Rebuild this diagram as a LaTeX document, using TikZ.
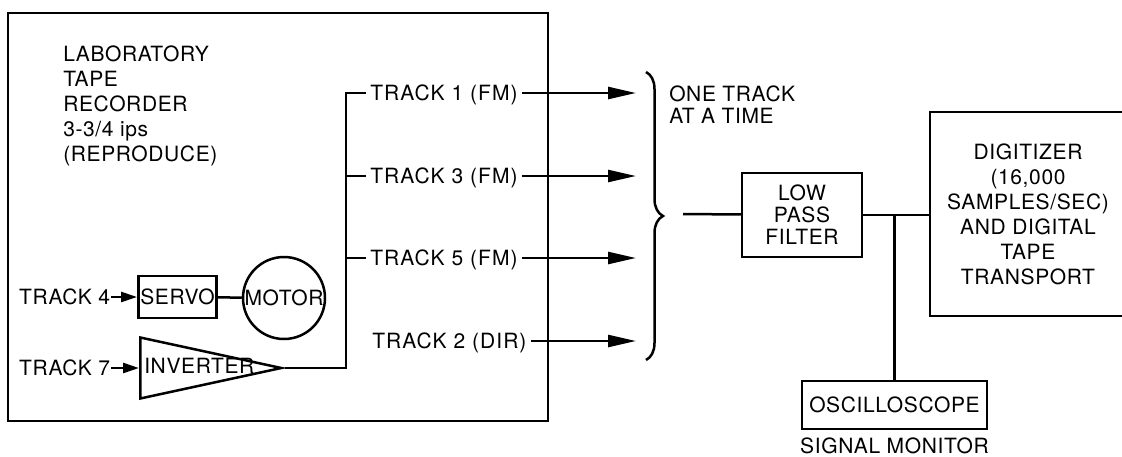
\documentclass[tikz,border=0pt]{standalone}
\usepackage{fontspec}
\setmainfont{TeX Gyre Heros}[LetterSpace=3]
\usetikzlibrary{arrows.meta,shapes.geometric,positioning,decorations.pathreplacing}

\begin{document}
\begin{tikzpicture}[x=1pt, y=-1pt,
    line width=2.5pt,
    font=\fontsize{21}{25}\selectfont,
    lbl/.style={inner sep=0pt, text height=15pt, text depth=0pt},
    trk/.style={lbl, inner xsep=3pt, anchor=west, font=\fontsize{21}{25}\selectfont\addfontfeature{LetterSpace=5}},
    blk/.style={draw, inner sep=2pt, align=center},
    big/.style={-{Triangle[length=28pt,width=12pt]}},
    sml/.style={-{Triangle[length=16pt,width=10pt]}}
]
\useasboundingbox (0,0) rectangle (1122,456);
\clip (0,0) rectangle (1122,456);

% tape recorder
\node[draw, minimum width=540, minimum height=408] (recorder) at (278,217) {};
\node[anchor=north west, inner sep=0pt, align=left] (title) at (62,45) {LABORATORY\\TAPE\\RECORDER\\3-3/4 ips\\(REPRODUCE)};

\node[blk, minimum width=77, minimum height=42] (servo) at (177.5,297) {SERVO};
\node[draw, circle, minimum size=82, inner sep=0pt] (motor) at (284,298) {MOTOR};
\node[lbl, anchor=west] (t4) at (18,297) {TRACK 4};
\node[draw, isosceles triangle, isosceles triangle stretches, minimum width=61, minimum height=141, inner sep=0pt, anchor=lower side] (inv) at (139,368) {};
\node[lbl, anchor=west] (invlbl) at (143,366) {INVERTER};
\node[lbl, anchor=west] (t7) at (18,368) {TRACK 7};

\draw[sml] (t4) -- (servo);
\draw (servo) -- (motor);
\draw[sml] (t7) -- (inv.lower side);

% tracks
\coordinate (bus) at (346,93);
\coordinate (tip) at (636,0);
\node[trk] (t1) at (366,93) {TRACK 1 (FM)};
\node[trk] (t3) at (366,176) {TRACK 3 (FM)};
\node[trk] (t5) at (366,258) {TRACK 5 (FM)};
\node[trk] (t2) at (368,341) {TRACK 2 (DIR)};

\draw (inv.apex) -| (bus) -- (t1);
\draw (bus |- t3) -- (t3);
\draw (bus |- t5) -- (t5);

\draw[big] (t1) -- (t1 -| tip);
\draw[big] (t3) -- (t3 -| tip);
\draw[big] (t5) -- (t5 -| tip);
\draw[big] (t2) -- (t2 -| tip);

% selector
\coordinate (brtop) at (646,72);
\coordinate (brbot) at (646,360);
\draw[decorate, decoration={brace, amplitude=17pt}] (brtop) -- (brbot);
\node[anchor=north west, inner sep=0pt, align=left, font=\fontsize{21}{22}\selectfont] (note) at (668,85) {ONE TRACK\\AT A TIME};

% filter, digitizer, monitor
\coordinate (mux) at (683,214);
\node[blk, minimum width=120, minimum height=84, font=\fontsize{21}{22}\selectfont] (lpf) at (802,215) {LOW\\PASS\\FILTER};
\node[blk, minimum width=196, minimum height=204] (dig) at (1028,214) {DIGITIZER\\(16,000\\SAMPLES/SEC)\\AND DIGITAL\\TAPE\\TRANSPORT};
\node[blk, minimum width=185, minimum height=48] (osc) at (894.5,405) {OSCILLOSCOPE};
\node[lbl, below=7pt of osc] (mon) {SIGNAL MONITOR};

\draw (mux) -- (lpf);
\draw (lpf.east) -- (lpf.east -| dig.west);
\draw (osc) -- (osc |- lpf);
\end{tikzpicture}
\end{document}
